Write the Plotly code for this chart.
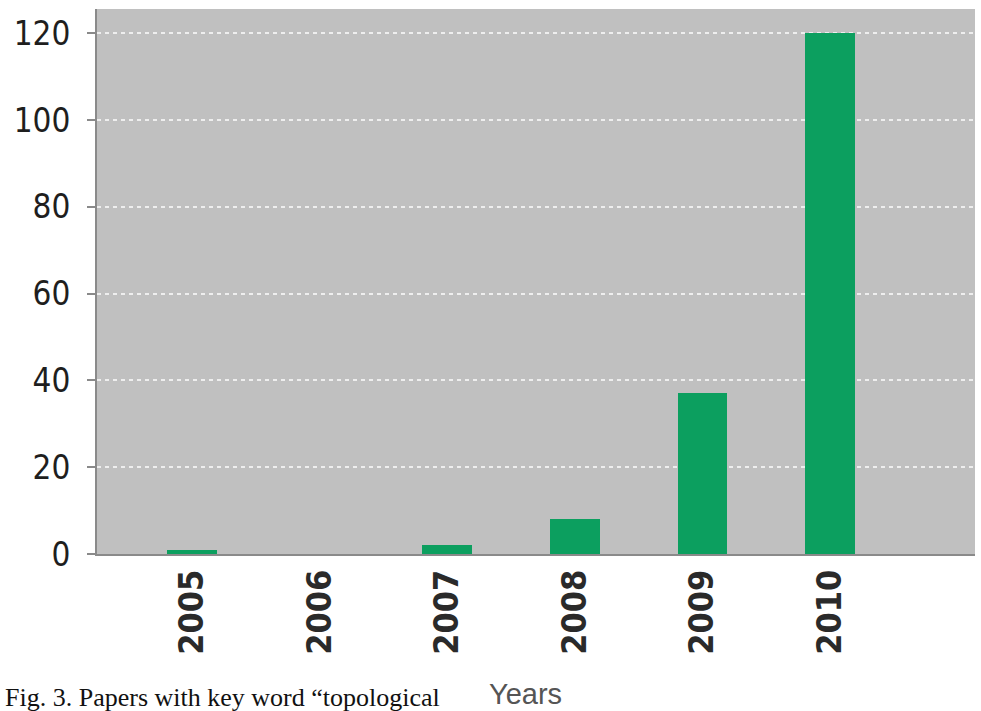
import plotly.graph_objects as go

# Papers per year
years = ["2005", "2006", "2007", "2008", "2009", "2010"]
papers = [1, 0, 2, 8, 37, 120]
y_ticks = [0, 20, 40, 60, 80, 100, 120]

W, H = 981, 711
L, R, T, B = 97, 6, 9, 157
plot_w = W - L - R
plot_h = H - T - B


def px_x(x):
    return (x - L) / plot_w


def px_y(y):
    return (H - B - y) / plot_h


fig = go.Figure()
fig.add_trace(go.Bar(
    x=list(range(len(years))),
    y=papers,
    width=0.39,
    marker=dict(color="#0c9f5f", line=dict(width=0)),
))

fig.update_layout(
    width=W,
    height=H,
    margin=dict(l=L, r=R, t=T, b=B, pad=0),
    paper_bgcolor="white",
    plot_bgcolor="#c0c0c0",
    showlegend=False,
    bargap=0,
    xaxis=dict(
        range=[-0.745, 6.136],
        tickmode="array",
        tickvals=list(range(len(years))),
        ticktext=years,
        tickangle=-90,
        tickfont=dict(family="DejaVu Sans Condensed, DejaVu Sans", size=34, color="#2a2a2a", weight="bold"),
        showgrid=False,
        showline=True,
        linecolor="#8a8a8a",
        linewidth=2,
        ticks="",
        zeroline=False,
        fixedrange=True,
    ),
    yaxis=dict(
        range=[0, 125.6],
        tickmode="array",
        tickvals=y_ticks,
        ticktext=[str(v) for v in y_ticks],
        tickfont=dict(family="DejaVu Sans Condensed, DejaVu Sans", size=33, color="#1e1e1e"),
        showgrid=True,
        gridcolor="#eeeeee",
        gridwidth=1.5,
        griddash="4px,4px",
        showline=True,
        linecolor="#8a8a8a",
        linewidth=2,
        ticks="outside",
        ticklen=8,
        tickwidth=1.5,
        tickcolor="#8a8a8a",
        ticklabelstandoff=10,
        zeroline=False,
        fixedrange=True,
    ),
    annotations=[
        dict(
            text="Years",
            xref="paper", yref="paper",
            x=px_x(525), y=px_y(694),
            xanchor="center", yanchor="middle",
            showarrow=False,
            font=dict(family="Liberation Sans, Arial", size=29, color="#555555"),
        ),
        dict(
            text="Fig. 3. Papers with key word \u201ctopological",
            xref="paper", yref="paper",
            x=px_x(3), y=px_y(697),
            xanchor="left", yanchor="middle",
            showarrow=False,
            font=dict(family="Liberation Serif, Times New Roman, serif", size=26, color="#111111"),
        ),
    ],
)

fig.write_html("out.html")
